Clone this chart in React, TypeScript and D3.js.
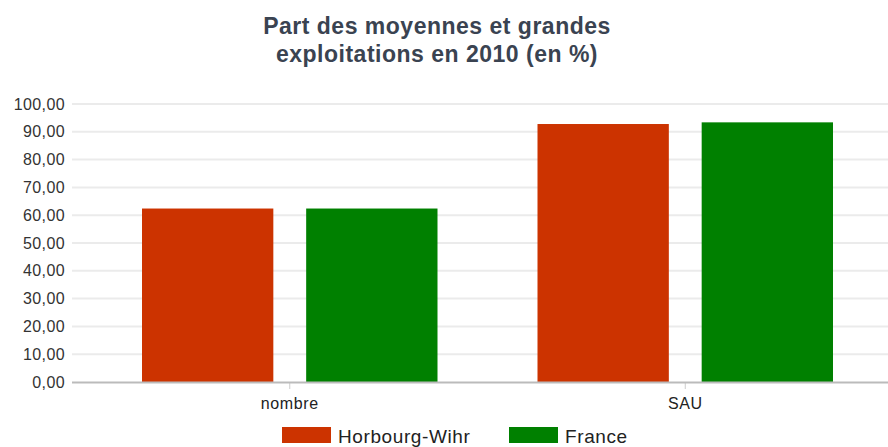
import React from 'react';
import * as d3 from 'd3';

const categories = ['nombre', 'SAU'];
const seriesNames = ['Horbourg-Wihr', 'France'];
const horbourgValues = [62.4, 92.8];
const franceValues = [62.4, 93.4];
const yTicks = [0, 10, 20, 30, 40, 50, 60, 70, 80, 90, 100];
const colors = ['#cc3300', '#008000'];

const W = 888;
const H = 447;

function App() {
  const y = d3.scaleLinear().domain([0, 100]).range([382, 104]);
  const x = d3.scaleBand().domain(categories).range([92, 883]);
  // bars ~131px wide with a 33px gap, centred in each band
  const inner = d3.scaleBand().domain(seriesNames).range([50, x.bandwidth() - 50]).paddingInner(0.2);
  const series = [horbourgValues, franceValues];
  const fmt = (v: number) => v.toFixed(2).replace('.', ',');

  return (
    <svg width={W} height={H} style={{ position: 'absolute', left: 0, top: 0, fontFamily: 'Liberation Sans, Arial, sans-serif' }}>
      <rect width={W} height={H} fill="#fff" />
      <text x={437} y={34} textAnchor="middle" fontSize={23} letterSpacing={0.5} fontWeight="bold" fill="#3a4351">
        Part des moyennes et grandes
      </text>
      <text x={437} y={62} textAnchor="middle" fontSize={23} letterSpacing={0.5} fontWeight="bold" fill="#3a4351">
        exploitations en 2010 (en %)
      </text>
      {yTicks.map(t => (
        <g key={t}>
          {t > 0 && <line x1={72} x2={W} y1={y(t)} y2={y(t)} stroke="#ebebeb" strokeWidth={2} />}
          <text x={65} y={y(t) + 5.5} textAnchor="end" fontSize={16} letterSpacing={0.4} fill="#333">{fmt(t)}</text>
        </g>
      ))}
      {categories.map((c, i) => (
        <g key={c}>
          {series.map((vals, s) => (
            <rect
              key={s}
              x={(x(c) as number) + (inner(seriesNames[s]) as number)}
              y={y(vals[i])}
              width={inner.bandwidth()}
              height={y(0) - y(vals[i])}
              fill={colors[s]}
            />
          ))}
          <line
            x1={(x(c) as number) + x.bandwidth() / 2}
            x2={(x(c) as number) + x.bandwidth() / 2}
            y1={382}
            y2={389}
            stroke="#ccc"
            strokeWidth={1}
          />
          <text x={(x(c) as number) + x.bandwidth() / 2} y={409} textAnchor="middle" fontSize={16} letterSpacing={0.6} fill="#222">{c}</text>
        </g>
      ))}
      <line x1={72} x2={W} y1={382.5} y2={382.5} stroke="#bbb" strokeWidth={2} />
      {seriesNames.map((n, s) => (
        <g key={n} transform={`translate(${s === 0 ? 282 : 509},0)`}>
          <rect x={0} y={427} width={49} height={16} fill={colors[s]} />
          <text x={56} y={443} fontSize={19} letterSpacing={0.6} fill="#222">{n}</text>
        </g>
      ))}
    </svg>
  );
}

export default App;
